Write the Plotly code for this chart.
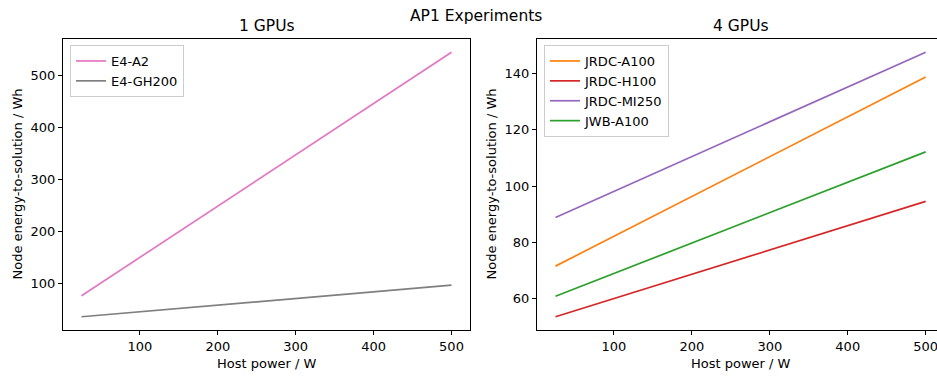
import plotly.graph_objects as go

# ---- data ----
host_power = [25, 500]

gpu1_names = ["E4-A2", "E4-GH200"]
e4_a2 = [75.6, 544.8]
e4_gh200 = [35.2, 96.0]

gpu4_names = ["JRDC-A100", "JRDC-H100", "JRDC-MI250", "JWB-A100"]
jrdc_a100 = [71.6, 138.8]
jrdc_h100 = [53.6, 94.6]
jrdc_mi250 = [88.9, 147.6]
jwb_a100 = [60.9, 112.2]

x_ticks = [100, 200, 300, 400, 500]
y1_ticks = [100, 200, 300, 400, 500]
y2_ticks = [60, 80, 100, 120, 140]

W, H = 937, 376
FONT = "DejaVu Sans"
FS = 13
TFS = 15.5

fig = go.Figure()

colors1 = ["#e377c2", "#7f7f7f"]
for name, ys, c in zip(gpu1_names, [e4_a2, e4_gh200], colors1):
    fig.add_trace(go.Scatter(x=host_power, y=ys, mode="lines", name=name,
                             line=dict(color=c, width=1.7),
                             xaxis="x", yaxis="y", legend="legend"))

colors2 = ["#ff7f0e", "#d62728", "#9467bd", "#2ca02c"]
for name, ys, c in zip(gpu4_names, [jrdc_a100, jrdc_h100, jrdc_mi250, jwb_a100], colors2):
    fig.add_trace(go.Scatter(x=host_power, y=ys, mode="lines", name=name,
                             line=dict(color=c, width=1.7),
                             xaxis="x2", yaxis="y2", legend="legend2"))

def px_x(p):
    return p / W

def px_y(p):
    return 1 - p / H

ydom = [px_y(330), px_y(39)]
axis_common = dict(showgrid=False, zeroline=False, showline=True, linecolor="black",
                   linewidth=1, ticks="outside", ticklen=4,
                   tickcolor="black", tickwidth=1, ticklabeloverflow="allow",
                   tickfont=dict(family=FONT, size=FS, color="black"))

def yrange(vals):
    lo, hi = min(vals), max(vals)
    m = (hi - lo) * 0.05
    return [lo - m, hi + m]

xr = [25 - 23.75, 500 + 23.75]
xr2_right = 500 + (937 - 925.7) / 0.7785

fig.update_layout(
    width=W, height=H, autosize=False,
    margin=dict(l=0, r=0, t=0, b=0),
    paper_bgcolor="white", plot_bgcolor="white",
    font=dict(family=FONT, color="black"),
    showlegend=True,
    xaxis=dict(domain=[px_x(63), px_x(470)], range=xr, tickvals=x_ticks,
               anchor="y", mirror=True, **axis_common),
    yaxis=dict(domain=ydom, range=yrange(e4_a2 + e4_gh200), tickvals=y1_ticks,
               anchor="x", mirror=True, **axis_common),
    xaxis2=dict(domain=[px_x(537), 1.0], range=[xr[0], xr2_right], tickvals=x_ticks,
                anchor="y2", mirror=True, **axis_common),
    yaxis2=dict(domain=ydom, range=yrange(jrdc_a100 + jrdc_h100 + jrdc_mi250 + jwb_a100),
                tickvals=y2_ticks, anchor="x2", mirror=False, **axis_common),
    legend=dict(x=px_x(70), y=px_y(45), xanchor="left", yanchor="top",
                bgcolor="rgba(255,255,255,0.8)", bordercolor="#cccccc", borderwidth=1,
                font=dict(family=FONT, size=FS, color="black"),
                tracegroupgap=0, itemwidth=30),
    legend2=dict(x=px_x(544), y=px_y(45), xanchor="left", yanchor="top",
                 bgcolor="rgba(255,255,255,0.8)", bordercolor="#cccccc", borderwidth=1,
                 font=dict(family=FONT, size=FS, color="black"),
                 tracegroupgap=0, itemwidth=30),
)

annos = [
    dict(text="AP1 Experiments", x=px_x(476), y=px_y(16), size=TFS, angle=0),
    dict(text="1 GPUs", x=px_x(266.5), y=px_y(26), size=TFS, angle=0),
    dict(text="4 GPUs", x=px_x(741), y=px_y(26), size=TFS, angle=0),
    dict(text="Host power / W", x=px_x(266.5), y=px_y(363), size=FS, angle=0),
    dict(text="Host power / W", x=px_x(741), y=px_y(363), size=FS, angle=0),
    dict(text="Node energy-to-solution / Wh", x=px_x(17), y=px_y(184.5), size=FS, angle=-90),
    dict(text="Node energy-to-solution / Wh", x=px_x(491), y=px_y(184.5), size=FS, angle=-90),
]
for a in annos:
    fig.add_annotation(text=a["text"], x=a["x"], y=a["y"], xref="paper", yref="paper",
                       xanchor="center", yanchor="middle", showarrow=False,
                       textangle=a["angle"],
                       font=dict(family=FONT, size=a["size"], color="black"))

fig.write_html("out.html")
